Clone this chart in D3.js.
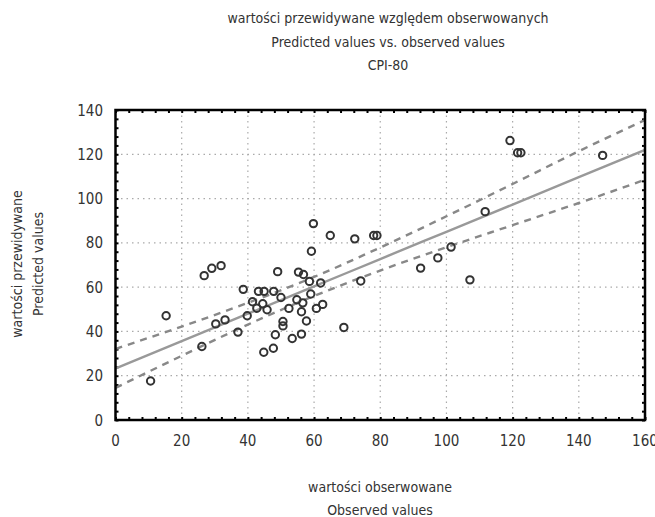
<!DOCTYPE html>
<html>
<head>
<meta charset="utf-8">
<script src="https://cdnjs.cloudflare.com/ajax/libs/d3/7.8.5/d3.min.js"></script>
<style>
  body { margin: 0; background: #fff; }
  text { font-family: "Liberation Sans Narrow", "DejaVu Sans Condensed", sans-serif; fill: #333; }
</style>
</head>
<body>
<div id="chart"></div>
<script>
// observed vs predicted values
var observed = [59.8, 64.9, 72.3, 78.0, 79.0, 59.2, 26.8, 29.1, 31.9, 49.0,
                55.3, 56.8, 58.6, 62.0, 74.1, 38.6, 43.2, 44.9, 47.8, 50.0,
                59.0, 41.4, 44.5, 54.8, 56.6, 62.6, 60.7, 42.7, 45.8, 52.4,
                56.2, 15.3, 39.8, 30.3, 33.1, 50.6, 50.6, 57.7, 37.0, 48.3,
                56.2, 53.4, 69.0, 26.1, 44.8, 47.7, 10.6, 119.2, 121.5, 122.5,
                147.2, 111.7, 101.4, 97.4, 92.2, 107.1];
var predicted = [88.7, 83.3, 81.8, 83.3, 83.3, 76.2, 65.2, 68.5, 69.7, 67.0,
                 66.8, 65.7, 62.6, 61.9, 62.8, 59.0, 58.1, 58.1, 58.1, 55.3,
                 56.9, 53.4, 52.5, 54.3, 52.9, 52.2, 50.4, 50.5, 49.8, 50.4,
                 48.9, 47.1, 47.1, 43.4, 45.2, 44.5, 42.5, 44.7, 39.7, 38.5,
                 38.8, 36.8, 41.8, 33.2, 30.6, 32.4, 17.6, 126.2, 120.7, 120.7,
                 119.5, 94.1, 78.1, 73.2, 68.6, 63.3];

// fitted line and 95% confidence band
var bandX = [0, 20, 40, 60, 80, 100, 120, 140, 160];
var fitY = [23.3, 35.6, 48.0, 60.3, 72.7, 85.0, 97.3, 109.7, 122.0];
var upperY = [32.1, 42.2, 52.9, 64.6, 77.9, 92.0, 106.6, 121.4, 135.5];
var lowerY = [14.5, 29.0, 43.1, 56.0, 67.5, 78.0, 88.0, 98.0, 108.5];

var xTicks = [0, 20, 40, 60, 80, 100, 120, 140, 160];
var yTicks = [0, 20, 40, 60, 80, 100, 120, 140];

var titleLines = ["wartości przewidywane względem obserwowanych", "Predicted values vs. observed values", "CPI-80"];
var xLabelLines = ["wartości obserwowane", "Observed values"];
var yLabelLines = ["wartości przewidywane", "Predicted values"];

var width = 655, height = 517;
var pLeft = 115.5, pRight = 645, pTop = 110, pBottom = 420;

var svg = d3.select("#chart").append("svg")
    .attr("width", width)
    .attr("height", height);

var x = d3.scaleLinear().domain([0, 160]).range([pLeft, pRight]);
var y = d3.scaleLinear().domain([0, 140]).range([pBottom, pTop]);

// titles
svg.selectAll("text.title")
    .data(titleLines)
    .enter().append("text")
    .attr("class", "title")
    .attr("x", 388)
    .attr("y", function(d, i) { return 23 + i * 23.5; })
    .attr("text-anchor", "middle")
    .style("font-size", "14px")
    .text(function(d) { return d; });

// grid
svg.append("g").selectAll("line")
    .data(xTicks.slice(1, -1))
    .enter().append("line")
    .attr("x1", function(d) { return x(d); })
    .attr("x2", function(d) { return x(d); })
    .attr("y1", pTop).attr("y2", pBottom)
    .attr("stroke", "#aaa").attr("stroke-width", 1.2)
    .attr("stroke-dasharray", "1.5,4");

svg.append("g").selectAll("line")
    .data(yTicks.slice(1, -1))
    .enter().append("line")
    .attr("y1", function(d) { return y(d); })
    .attr("y2", function(d) { return y(d); })
    .attr("x1", pLeft).attr("x2", pRight)
    .attr("stroke", "#aaa").attr("stroke-width", 1.2)
    .attr("stroke-dasharray", "1.5,4");

// inward ticks on all sides
var minorX = d3.range(0, 161, 4);
var minorY = d3.range(0, 141, 4);
var axisB = d3.axisBottom(x).tickValues(minorX).tickSize(-3).tickFormat("");
var axisT = d3.axisTop(x).tickValues(minorX).tickSize(-3).tickFormat("");
var axisL = d3.axisLeft(y).tickValues(minorY).tickSize(-3).tickFormat("");
var axisR = d3.axisRight(y).tickValues(minorY).tickSize(-3).tickFormat("");

[[axisB, "translate(0," + pBottom + ")"], [axisT, "translate(0," + pTop + ")"],
 [axisL, "translate(" + pLeft + ",0)"], [axisR, "translate(" + pRight + ",0)"]].forEach(function(a) {
    var g = svg.append("g").attr("transform", a[1]).call(a[0]);
    g.select(".domain").remove();
    g.selectAll("line").attr("stroke", "#000").attr("stroke-width", 2);
});

// tick labels
svg.append("g").selectAll("text")
    .data(xTicks)
    .enter().append("text")
    .attr("x", function(d) { return x(d); })
    .attr("y", 446)
    .attr("text-anchor", "middle")
    .style("font-size", "15px")
    .text(function(d) { return d; });

svg.append("g").selectAll("text")
    .data(yTicks)
    .enter().append("text")
    .attr("x", 103)
    .attr("y", function(d) { return y(d) + 5.5; })
    .attr("text-anchor", "end")
    .style("font-size", "15px")
    .text(function(d) { return d; });

// axis titles
svg.selectAll("text.xlab")
    .data(xLabelLines)
    .enter().append("text")
    .attr("class", "xlab")
    .attr("x", 380)
    .attr("y", function(d, i) { return 492 + i * 23; })
    .attr("text-anchor", "middle")
    .style("font-size", "14px")
    .text(function(d) { return d; });

svg.selectAll("text.ylab")
    .data(yLabelLines)
    .enter().append("text")
    .attr("class", "ylab")
    .attr("transform", function(d, i) { return "translate(" + (22 + i * 21) + ",264) rotate(-90)"; })
    .attr("text-anchor", "middle")
    .style("font-size", "14px")
    .text(function(d) { return d; });

// fitted line and band
var plot = svg.append("g");
plot.append("clipPath").attr("id", "clip")
    .append("rect").attr("x", pLeft).attr("y", pTop)
    .attr("width", pRight - pLeft).attr("height", pBottom - pTop);

var lineOf = function(vals) {
    return d3.line()
        .x(function(d, i) { return x(bandX[i]); })
        .y(function(d) { return y(d); })
        .curve(d3.curveMonotoneX)(vals);
};

plot.append("path")
    .attr("d", lineOf(fitY))
    .attr("fill", "none").attr("stroke", "#999").attr("stroke-width", 2.4)
    .attr("clip-path", "url(#clip)");

[upperY, lowerY].forEach(function(vals) {
    plot.append("path")
        .attr("d", lineOf(vals))
        .attr("fill", "none").attr("stroke", "#888").attr("stroke-width", 2.4)
        .attr("stroke-dasharray", "7,6")
        .attr("clip-path", "url(#clip)");
});

// points
svg.append("g").selectAll("circle")
    .data(observed)
    .enter().append("circle")
    .attr("cx", function(d) { return x(d); })
    .attr("cy", function(d, i) { return y(predicted[i]); })
    .attr("r", 3.7)
    .attr("fill", "none")
    .attr("stroke", "#333")
    .attr("stroke-width", 2);

// frame
svg.append("rect")
    .attr("x", pLeft).attr("y", pTop)
    .attr("width", pRight - pLeft).attr("height", pBottom - pTop)
    .attr("fill", "none").attr("stroke", "#000").attr("stroke-width", 2.5);
</script>
</body>
</html>
